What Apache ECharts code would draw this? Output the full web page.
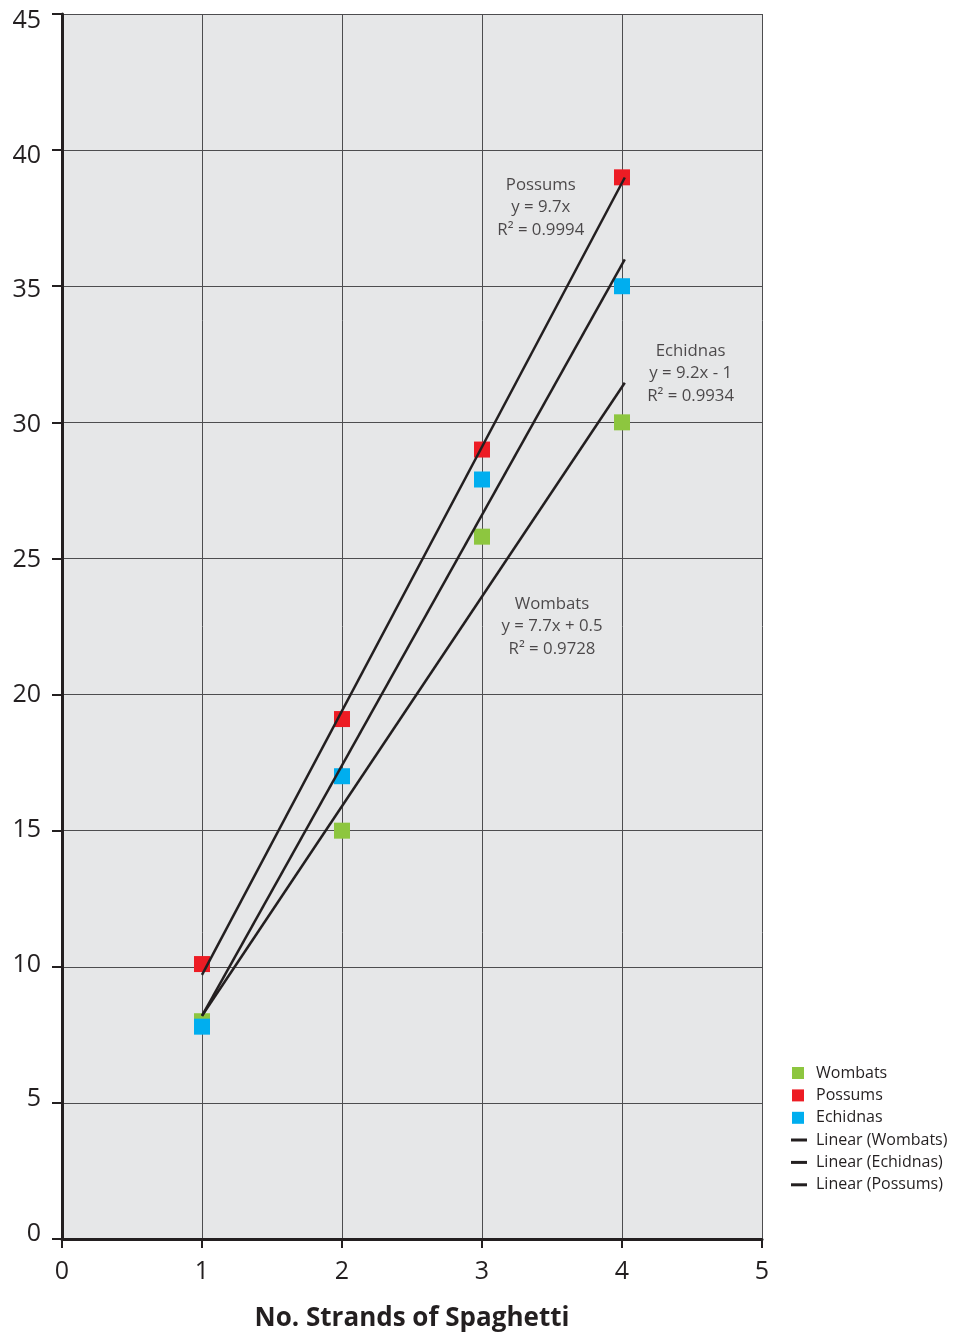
<!DOCTYPE html>
<html>
<head>
<meta charset="utf-8">
<script src="https://cdn.jsdelivr.net/npm/echarts@6/dist/echarts.min.js"></script>
<style>
  html, body { margin: 0; padding: 0; background: #ffffff; }
  #chart { width: 956px; height: 1333px; }
</style>
</head>
<body>
<div id="chart"></div>
<script>
// Strand counts on the x axis
const strands = [1, 2, 3, 4];

// Measured values per animal
const wombats  = [8.0, 15.0, 25.8, 30.0];
const possums  = [10.1, 19.1, 29.0, 39.0];
const echidnas = [7.8, 17.0, 27.9, 35.0];

// Linear fits as stated on the chart: [slope, intercept]
const fitWombats  = [7.7, 0.5];
const fitEchidnas = [9.2, -1];
const fitPossums  = [9.7, 0];

// x range covered by the fitted lines
const fitRange = [1.0, 4.02];

// Fit labels and where each sits in data space
const fitLabels = [
  { at: [3.42, 37.9], text: 'Possums\ny = 9.7x\nR² = 0.9994' },
  { at: [4.49, 31.8], text: 'Echidnas\ny = 9.2x - 1\nR² = 0.9934' },
  { at: [3.5, 22.5],  text: 'Wombats\ny = 7.7x + 0.5\nR² = 0.9728' }
];

const FONT = "'Open Sans', 'Noto Sans', sans-serif";
const INK = '#231f20';

function pairs(xs, ys) { return xs.map((x, i) => [x, ys[i]]); }
function fitLine(f) { return fitRange.map(x => [x, +(f[0] * x + f[1]).toFixed(4)]); }

function pointSeries(name, data, color) {
  return {
    name: name, type: 'scatter', data: pairs(strands, data),
    symbol: 'rect', symbolSize: 16,
    itemStyle: { color: color, opacity: 1 },
    z: 3
  };
}
function lineSeries(name, fit) {
  return {
    name: name, type: 'line', data: fitLine(fit),
    showSymbol: false, symbol: 'none',
    lineStyle: { color: INK, width: 2.5 },
    itemStyle: { color: INK },
    z: 4
  };
}

const chart = echarts.init(document.getElementById('chart'), null, { renderer: 'canvas' });

chart.setOption({
  backgroundColor: '#ffffff',
  animation: false,
  grid: [
    {
      left: 62, right: 194, top: 14, bottom: 94,
      outerBoundsMode: 'none', containLabel: false,
      show: true, backgroundColor: '#e6e7e8', borderWidth: 0
    },
    // tick-label track for the value axis, set slightly tighter than the plot
    {
      left: 62, right: 194, top: 20.7, bottom: 99,
      outerBoundsMode: 'none', containLabel: false, show: false
    }
  ],
  legend: [
    {
      left: 792, top: 1065, orient: 'vertical', padding: 0,
      itemWidth: 12, itemHeight: 12, itemGap: 6.4,
      icon: 'rect',
      data: ['Wombats', 'Possums', 'Echidnas'],
      textStyle: { fontFamily: FONT, fontSize: 16, color: INK, lineHeight: 16, padding: [0, 0, 0, 7] }
    },
    {
      left: 791, top: 1132, orient: 'vertical', padding: 0,
      itemWidth: 16, itemHeight: 3, itemGap: 6.4,
      icon: 'rect',
      data: ['Linear (Wombats)', 'Linear (Echidnas)', 'Linear (Possums)'],
      textStyle: { fontFamily: FONT, fontSize: 16, color: INK, lineHeight: 16, padding: [0, 0, 0, 4] }
    }
  ],
  xAxis: [
    {
      type: 'value', min: 0, max: 5, interval: 1, gridIndex: 0,
      name: 'No. Strands of Spaghetti', nameLocation: 'middle', nameGap: 67,
      nameTextStyle: { fontFamily: FONT, fontSize: 26, fontWeight: 'bold', color: INK },
      axisLine: { show: true, onZero: false, lineStyle: { color: INK, width: 3 } },
      axisTick: { show: true, length: 9, lineStyle: { color: INK, width: 2 } },
      axisLabel: { fontFamily: FONT, fontSize: 25, color: INK, margin: 20 },
      splitLine: { show: true, lineStyle: { color: '#4d4d4f', width: 1 } }
    },
    { type: 'value', min: 0, max: 5, gridIndex: 1, show: false }
  ],
  yAxis: [
    {
      type: 'value', min: 0, max: 45, interval: 5, gridIndex: 0,
      axisLine: { show: true, onZero: false, lineStyle: { color: INK, width: 3 } },
      axisTick: { show: true, length: 10, lineStyle: { color: INK, width: 2 } },
      axisLabel: { show: false },
      splitLine: { show: true, lineStyle: { color: '#4d4d4f', width: 1 } }
    },
    {
      type: 'value', min: 0, max: 45, interval: 5, gridIndex: 1,
      axisLine: { show: false }, axisTick: { show: false }, splitLine: { show: false },
      axisLabel: { fontFamily: FONT, fontSize: 25, color: INK, margin: 21 }
    }
  ],
  series: [
    pointSeries('Wombats', wombats, '#8dc63f'),
    pointSeries('Possums', possums, '#ed1c24'),
    pointSeries('Echidnas', echidnas, '#00aeef'),
    lineSeries('Linear (Wombats)', fitWombats),
    lineSeries('Linear (Echidnas)', fitEchidnas),
    lineSeries('Linear (Possums)', fitPossums),
    {
      name: 'fit labels', type: 'scatter', symbolSize: 0, silent: true,
      data: fitLabels.map(l => ({ value: l.at, label: { formatter: l.text } })),
      label: {
        show: true, position: 'inside', align: 'center', verticalAlign: 'middle',
        fontFamily: FONT, fontSize: 16.8, lineHeight: 22.5, color: INK
      },
      z: 5
    }
  ]
});
</script>
</body>
</html>
